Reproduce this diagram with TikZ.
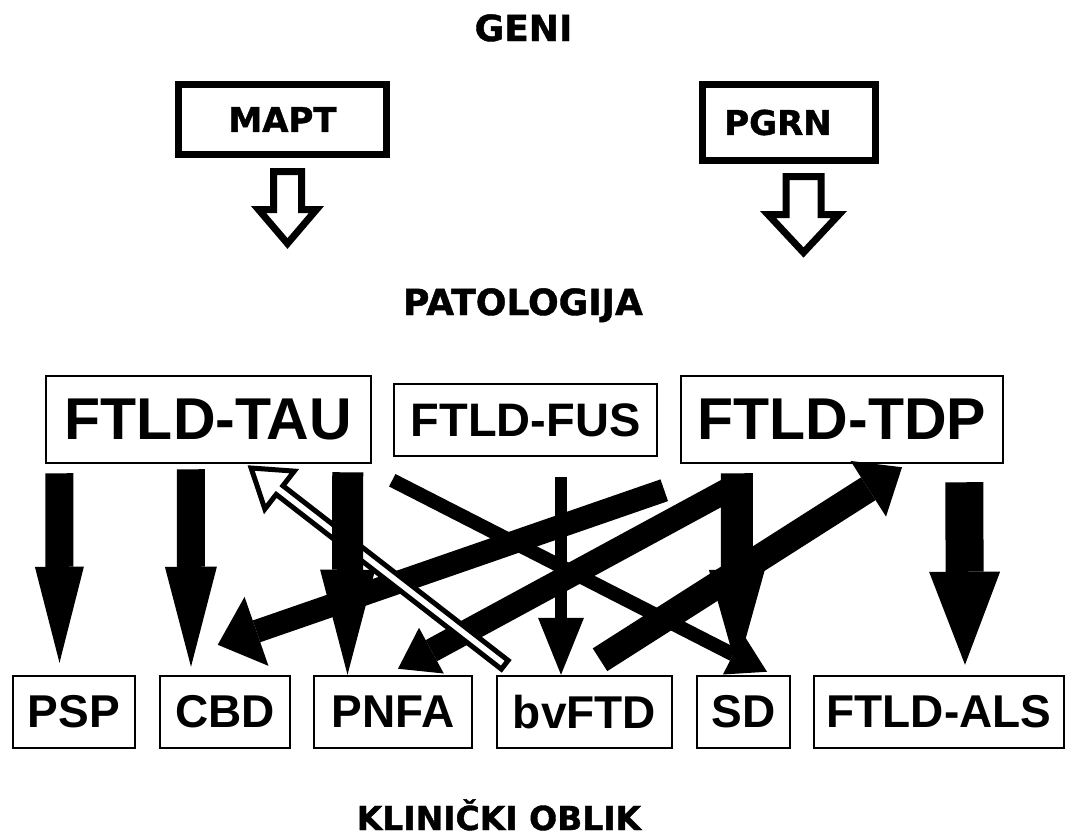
\documentclass[tikz,border=0pt]{standalone}
\usepackage{fontspec}
\setmainfont{Liberation Sans}
\newfontfamily\headfont{DejaVu Sans}[BoldFeatures={FakeBold=1.2}]
\usetikzlibrary{arrows.meta}

\tikzset{
  heading/.style={anchor=base, inner sep=0pt, font=\headfont\bfseries\fontsize{36}{36}\selectfont},
  genebox/.style={draw, line width=7pt, inner sep=0pt,
    font=\headfont\bfseries\fontsize{34}{34}\selectfont},
  patbox/.style={draw, line width=2.5pt, inner sep=0pt, minimum height=#1,
    font=\bfseries\fontsize{59}{59}\selectfont},
  clinbox/.style={draw, line width=2.5pt, inner sep=0pt, minimum height=72pt,
    font=\bfseries\fontsize{46}{46}\selectfont},
  hollow/.style={draw=black, fill=white, line width=7pt},
  fat/.style n args={3}{line width=#1, -{Triangle[width=#2,length=#3,line width=0pt]}}
}

\begin{document}
\begin{tikzpicture}[x=1pt,y=-1pt]
    \fill[white] (0,0) rectangle (1068,839);

    %%%% Geni %%%%%%%%%%%%%%%%%%%%%%%%%%%%%%%%%%%%%%%%%%%%%%%%%%%%%%%%%%%%
    \node[heading] (geni) at (523.5,41) {GENI};
    \node[genebox, minimum width=208pt, minimum height=70pt] (mapt) at (282.5,119.5) {MAPT};
    \node[genebox, minimum width=173pt, minimum height=76pt] (pgrn) at (789,122.5) {PGRN\hspace*{22pt}};

    \draw[hollow, shift={([xshift=5pt,yshift=-13.5pt]mapt.south)}]
         (-14,0) -- (14,0) -- (14,38) -- (29,38)
      -- (0,72) -- (-29,38) -- (-14,38) -- cycle;
    \draw[hollow, shift={([xshift=14.5pt,yshift=-12.5pt]pgrn.south)}]
         (-17.5,0) -- (17.5,0) -- (17.5,38) -- (35.5,38)
      -- (0,76) -- (-35.5,38) -- (-17.5,38) -- cycle;

    %%%% Patologija %%%%%%%%%%%%%%%%%%%%%%%%%%%%%%%%%%%%%%%%%%%%%%%%%%%%%%
    \node[heading] (pat) at (523,315) {PATOLOGIJA};
    \node[patbox=87pt, minimum width=325pt] (tau) at (208.5,419.5) {FTLD-TAU};
    \node[patbox=72pt, minimum width=263pt, font=\bfseries\fontsize{47}{47}\selectfont]
         (fus) at (525.5,420) {FTLD-FUS};
    \node[patbox=87pt, minimum width=322pt] (tdp) at (842,419.5) {FTLD-TDP};

    %%%% Klinicki oblik %%%%%%%%%%%%%%%%%%%%%%%%%%%%%%%%%%%%%%%%%%%%%%%%%%
    \node[clinbox, minimum width=122pt] (psp)   at (74,712)    {PSP};
    \node[clinbox, minimum width=130pt] (cbd)   at (225,712)   {CBD};
    \node[clinbox, minimum width=158pt] (pnfa)  at (393,712)   {PNFA};
    \node[clinbox, minimum width=175pt] (bvftd) at (584.5,712) {bvFTD};
    \node[clinbox, minimum width=93pt]  (sd)    at (743.5,712) {SD};
    \node[clinbox, minimum width=250pt] (als)   at (939,712)   {FTLD-ALS};
    \node[heading, font=\headfont\bfseries\fontsize{33}{33}\selectfont] (klin) at (499,830) {KLINIČKI OBLIK};

    %%%% Diagonals %%%%%%%%%%%%%%%%%%%%%%%%%%%%%%%%%%%%%%%%%%%%%%%%%%%%%%%
    \draw[fat={23pt}{73pt}{41pt}]
         ([xshift=6pt,yshift=-33pt]fus.south east) -- ([xshift=59pt,yshift=30pt]cbd.north west);
    \draw[fat={24pt}{52pt}{38pt}]
         ([xshift=53pt,yshift=-23pt]tdp.south west) -- ([xshift=5pt,yshift=6pt]pnfa.north);
    \draw[fat={14pt}{45pt}{38pt}]
         ([xshift=20pt,yshift=-16pt]tau.south east) -- ([xshift=23.5pt,yshift=3pt]sd.north);
    \draw[fat={27pt}{66pt}{40pt}]
         ([xshift=15.5pt,yshift=15pt]bvftd.north) -- ([xshift=60pt,yshift=-3pt]tdp.south);

    \draw[hollow, line width=5pt, shift={([xshift=9pt,yshift=10pt]bvftd.north west)}, rotate=142.2]
         (0,5.5) -- (285,5.5) -- (285,24) -- (321,0)
      -- (285,-24) -- (285,-5.5) -- (0,-5.5) -- cycle;

    %%%% Verticals %%%%%%%%%%%%%%%%%%%%%%%%%%%%%%%%%%%%%%%%%%%%%%%%%%%%%%%
    \draw[fat={28pt}{49pt}{96pt}]
         ([xshift=14.5pt,yshift=-9pt]tau.south west) -- ([xshift=-14.5pt,yshift=12pt]psp.north);
    \draw[fat={28pt}{52pt}{100pt}]
         ([xshift=146pt,yshift=-5pt]tau.south west) -- ([xshift=-34pt,yshift=8pt]cbd.north);
    \draw[fat={31pt}{55pt}{105pt}]
         ([xshift=-24.5pt,yshift=-8pt]tau.south east) -- ([xshift=-45.5pt]pnfa.north);
    \draw[fat={12pt}{46pt}{57pt}]
         ([xshift=35.5pt,yshift=-20pt]fus.south) -- ([xshift=-23.5pt]bvftd.north);
    \draw[fat={32pt}{56pt}{100pt}]
         ([xshift=57pt,yshift=-9pt]tdp.south west) -- ([xshift=-6.5pt,yshift=5pt]sd.north);
    \draw[fat={38pt}{71pt}{93pt}]
         ([xshift=-40pt,yshift=-18pt]tdp.south east) -- ([xshift=26pt,yshift=10pt]als.north);
\end{tikzpicture}
\end{document}
